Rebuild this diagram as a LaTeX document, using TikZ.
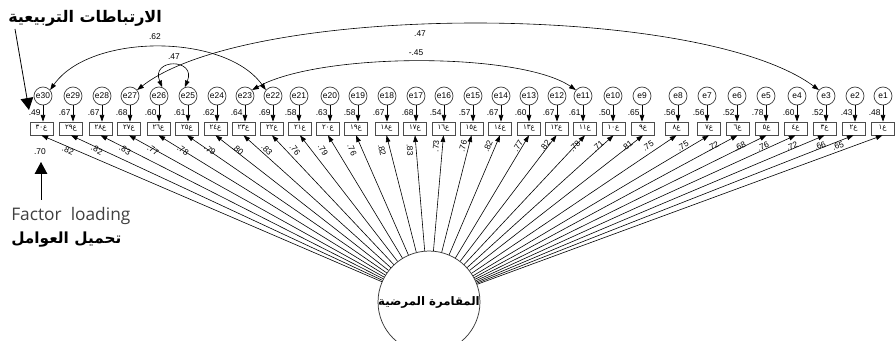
\documentclass[tikz,border=0pt]{standalone}
\usepackage{fontspec}
\setmainfont{Liberation Sans}
\newfontfamily\arfont[Script=Arabic]{DejaVu Sans}
\newfontfamily\opensans{Open Sans}
\TeXXeTstate=1
\usetikzlibrary{arrows.meta,calc}
\begin{document}
\begin{tikzpicture}[x=0.75pt,y=-0.75pt,
  errc/.style={circle, draw=black!75, line width=0.55pt, minimum size=13.5pt, inner sep=0pt, font=\fontsize{6.3}{7}\selectfont},
  obs/.style={rectangle, draw=black!70, line width=0.55pt, minimum width=17.25pt, minimum height=9.75pt, inner sep=0pt, font=\arfont\fontsize{5.3}{6}\selectfont},
  arr/.style={-{Triangle[length=5pt,width=3.5pt]}, line width=0.45pt},
  darr/.style={{Triangle[length=5pt,width=3.5pt]}-{Triangle[length=5pt,width=3.5pt]}, line width=0.45pt},
  lab/.style={font=\fontsize{6.3}{7}\selectfont, inner sep=0.5pt},
  bigarr/.style={-{Triangle[length=9pt,width=9.5pt]}, line width=0.6pt},
  fac/.style={circle, draw=black!80, line width=0.55pt, minimum size=52pt, inner sep=0pt, font=\arfont\bfseries\fontsize{8.8}{10}\selectfont}
]
\useasboundingbox (0,0) rectangle (896,341);

% title annotations
\node[anchor=west, font=\arfont\bfseries\fontsize{12}{14}\selectfont, inner sep=0pt] (ttl) at (8,18) {\beginR الارتباطات التربيعية\endR};
\node[anchor=west, font=\opensans\fontsize{13}{15}\selectfont, text=black!75, inner sep=0pt] (fl) at (11,216) {Factor\ \ loading};
\node[anchor=west, font=\arfont\bfseries\fontsize{11.5}{14}\selectfont, inner sep=0pt] (tf) at (11,240) {\beginR تحميل العوامل\endR};
\coordinate (a1s) at (15,29);
\coordinate (a1e) at (29,110);
\draw[bigarr] (a1s) -- (a1e);
\coordinate (a2s) at (41,200);
\coordinate (a2e) at (41,162);
\draw[bigarr] (a2s) -- (a2e);

% factor
\node[fac] (F) at (429,302) {\beginR المقامرة المرضية\endR};

\foreach \i/\xb/\xe/\smc/\ldg/\dg/\lx in {
 30/41.5/43/.49/.70/٣٠/40,
 29/71/73/.67/.82/٢٩/68,
 28/100.5/102/.67/.82/٢٨/97,
 27/129/130/.68/.83/٢٧/125,
 26/158.5/159/.60/.77/٢٦/153,
 25/187/188/.61/.78/٢٥/183,
 24/215.5/217/.62/.79/٢٤/210,
 23/243.5/245/.64/.80/٢٣/238,
 22/272/273/.69/.83/٢٢/267,
 21/300/299/.58/.76/٢١/295,
 20/328/330/.63/.79/٢٠/323,
 19/356/358/.58/.76/١٩/352,
 18/386.5/387/.67/.82/١٨/382,
 17/415/416/.68/.83/١٧/410,
 16/443.5/444/.54/.73/١٦/436,
 15/471.5/473/.57/.76/١٥/463,
 14/500/501/.67/.82/١٤/488,
 13/529/529/.60/.77/١٣/518,
 12/556.5/557/.67/.82/١٢/545,
 11/585/583/.61/.78/١١/575,
 10/613.5/613/.50/.71/١٠/598,
 9/643/642/.65/.81/٩/627,
 8/676.5/678/.56/.75/٨/648,
 7/709/707/.56/.75/٧/683,
 6/737.5/737/.52/.72/٦/713,
 5/766.5/766/.78/.68/٥/740,
 4/795.5/797/.60/.76/٤/763,
 3/824.5/826/.52/.72/٣/792,
 2/853.5/855/.43/.66/٢/820,
 1/882.5/883/.48/.65/١/838}
{
  \node[obs] (b\i) at (\xb,128.5) {ع\dg};
  \node[errc] (e\i) at (\xe,96) {e\i};
  \draw[arr] (e\i.south) -- (e\i.south |- b\i.north);
  \node[lab, anchor=south east] at ($(e\i.south |- b\i.north)+(-1.5,-5)$) {\smc};
  \draw[arr] (F) -- (b\i.south);
  \ifnum\i=30
    \node[lab] at (40,152) {\ldg};
  \else
    \ifnum\i>16
      \path let \p1=(b\i.south), \p2=(F.center), \n1={atan2(\y1-\y2,\x1-\x2)-180} in
        node[lab, rotate=\n1] at (\lx,150) {\ldg};
    \else
      \path let \p1=(b\i.south), \p2=(F.center), \n1={atan2(\y1-\y2,\x1-\x2)} in
        node[lab, rotate=\n1] at (\lx,146) {\ldg};
    \fi
  \fi
}

% covariances
\draw[darr] (e30.40) .. controls (90,33) and (225,33) .. (e22.140);
\node[lab] (c1) at (155,37) {.62};
\draw[darr] (e26.70) .. controls (150,58) and (197,58) .. (e25.110);
\node[lab] (c2) at (174,57) {.47};
\draw[darr] (e27.40) .. controls (250,2) and (700,2) .. (e3.140);
\node[lab] (c3) at (420,34) {.47};
\draw[darr] (e23.40) .. controls (320,52) and (520,52) .. (e11.140);
\node[lab] (c4) at (416,53) {-.45};
\end{tikzpicture}
\end{document}
